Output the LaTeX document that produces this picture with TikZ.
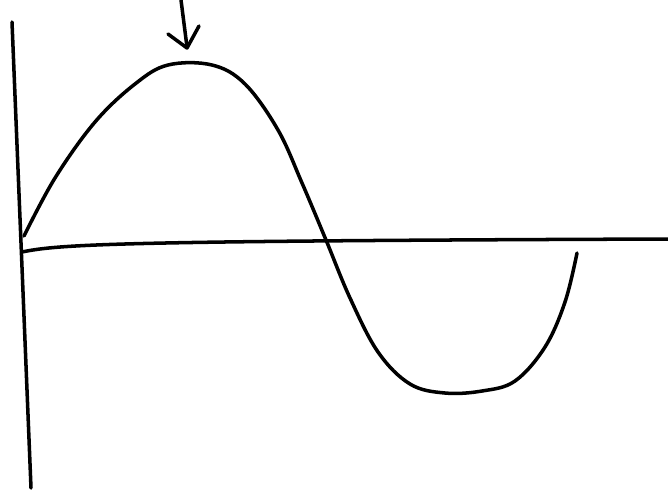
\documentclass[tikz,border=0pt]{standalone}
\begin{document}
\begin{tikzpicture}[x=0.02cm, y=-0.02cm, line width=2pt, line cap=round, line join=round]
  \useasboundingbox (0,0) rectangle (668,494);
  % axes
  \draw (12,22) -- (31,488);
  \draw (22,252) .. controls (60,244) and (120,241) .. (668,239);
  % wave
  \draw plot[smooth, tension=0.6] coordinates {(24,236) (55,178) (95,122) (135,84) (168,65) (212,65) (245,84) (278,130) (302,183) (326,240) (350,298) (378,352) (410,384) (445,393) (482,391) (515,381) (545,347) (565,302) (577,253)};
  % arrow
  \draw (181,0) -- (187,47);
  \draw (168,34) -- (187,48) -- (199,26);
\end{tikzpicture}
\end{document}
